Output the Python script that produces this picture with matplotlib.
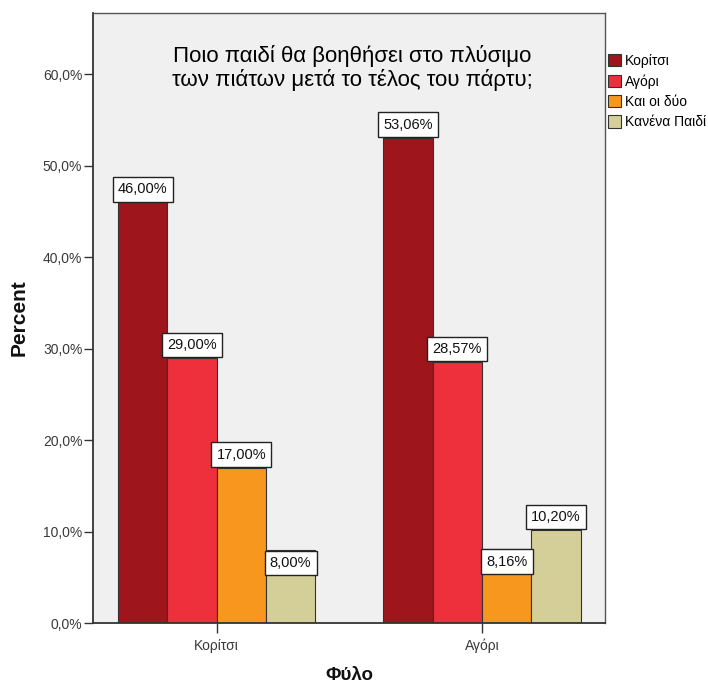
import matplotlib
matplotlib.use("Agg")
import matplotlib.pyplot as plt
from matplotlib.patches import Patch
import numpy as np

plt.rcParams['font.family'] = ['Liberation Sans', 'DejaVu Sans']

# Data
groups = ['Κορίτσι', 'Αγόρι']
series = ['Κορίτσι', 'Αγόρι', 'Και οι δύο', 'Κανένα Παιδί']
values = {
    'Κορίτσι':      [46.00, 53.06],
    'Αγόρι':        [29.00, 28.57],
    'Και οι δύο':   [17.00, 8.16],
    'Κανένα Παιδί': [8.00, 10.20],
}
colors = ['#9E161B', '#EE2F3C', '#F7971E', '#D4CF98']
title = 'Ποιο παιδί θα βοηθήσει στο πλύσιμο\nτων πιάτων μετά το τέλος του πάρτυ;'
yticks = [0, 10, 20, 30, 40, 50, 60]

W, H = 708, 686
fig = plt.figure(figsize=(W / 100, H / 100), dpi=100)
ax = fig.add_axes([92.7 / W, 1 - 623.3 / H, (605.5 - 92.7) / W, (623.3 - 12.7) / H])
ax.set_facecolor('#F0F0F0')

x = np.arange(len(groups))
w = 0.1857
offsets = (np.arange(len(series)) - 1.5) * w

lab_fs = 10.5
lab_pad = 0.36
for i, s in enumerate(series):
    vals = values[s]
    ax.bar(x + offsets[i], vals, width=w, color=colors[i],
           edgecolor='#333333', linewidth=0.8, zorder=2)
    for xi, v in zip(x + offsets[i], vals):
        inside = v < 9
        shift = lab_pad * lab_fs + 0.5
        ax.annotate(f'{v:.2f}%'.replace('.', ','), (xi, v),
                    xytext=(0, -shift if inside else shift), textcoords='offset points',
                    ha='center', va='top' if inside else 'bottom',
                    fontsize=lab_fs, color='#111111', zorder=4,
                    bbox=dict(boxstyle=f'square,pad={lab_pad}', fc='white',
                              ec='#222222', lw=1.0))

ax.set_xlim(-0.467, 1.465)
ax.set_ylim(0, 66.7)
ax.set_xticks(x)
ax.set_xticklabels(groups, fontsize=10, color='#3A3A3A')
ax.set_yticks(yticks)
ax.set_yticklabels([f'{t:.1f}%'.replace('.', ',') for t in yticks],
                   fontsize=10, color='#3A3A3A')
ax.tick_params(axis='y', length=6.5, width=1.0, color='#333333', pad=1)
ax.tick_params(axis='x', length=7, width=1.0, color='#333333', pad=4)

for side in ['top', 'right']:
    ax.spines[side].set_color('#555555')
    ax.spines[side].set_linewidth(1.0)
for side in ['left', 'bottom']:
    ax.spines[side].set_color('#333333')
    ax.spines[side].set_linewidth(1.3)

fig.text(19 / W, 1 - 318 / H, 'Percent', rotation=90, ha='center', va='center',
         fontsize=15, fontweight='bold', color='#111111')
fig.text(349 / W, 1 - 676 / H, 'Φύλο', ha='center', va='center',
         fontsize=13.5, fontweight='bold', color='#111111')

fig.text(352 / W, 1 - 68 / H, title, ha='center', va='center',
         fontsize=16, color='#000000', linespacing=1.08)

handles = [Patch(facecolor=c, edgecolor='#333333', linewidth=0.8) for c in colors]
fig.legend(handles, series, loc='upper left',
           bbox_to_anchor=(607.5 / W, 1 - 54 / H),
           bbox_transform=fig.transFigure, frameon=False, fontsize=10,
           handlelength=1.0, handleheight=1.0, handletextpad=0.25,
           labelspacing=0.45, borderpad=0, borderaxespad=0)

fig.savefig('out.png', dpi=100, facecolor='white')
